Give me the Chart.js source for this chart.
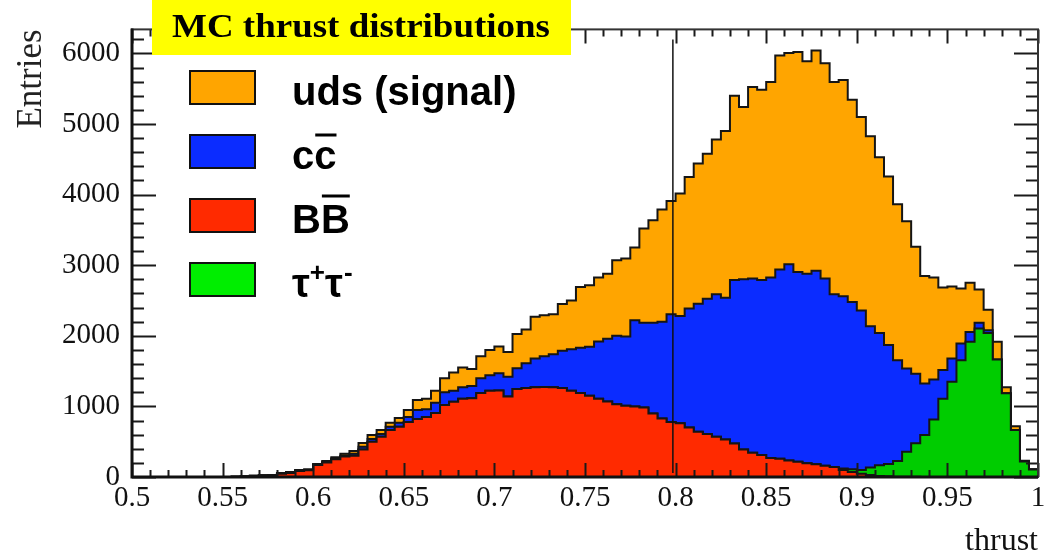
<!DOCTYPE html>
<html>
<head>
<meta charset="utf-8">
<script src="https://cdn.jsdelivr.net/npm/chart.js@4/dist/chart.umd.min.js"></script>
<style>
  body { margin: 0; background: #fff; }
</style>
</head>
<body>
<canvas id="grafica" width="1056" height="557"></canvas>
<script>
// histogram binning: 100 bins from 0.5 to 1.0
const thrustMin = 0.5;
const thrustMax = 1.0;
const binWidth = 0.005;
const cutValue = 0.7985;

const xTicks = [0.5, 0.55, 0.6, 0.65, 0.7, 0.75, 0.8, 0.85, 0.9, 0.95, 1.0];
const xTickLabels = ["0.5", "0.55", "0.6", "0.65", "0.7", "0.75", "0.8", "0.85", "0.9", "0.95", "1"];
const yTicks = [0, 1000, 2000, 3000, 4000, 5000, 6000];

// entries per bin
const bbValues = [
    0, 0, 0, 0, 0, 0, 0, 0, 0, 0,
    0, 5, 8, 15, 20, 25, 45, 55, 85, 95,
    170, 205, 250, 290, 300, 390, 500, 570, 665, 712,
    780, 820, 850, 905, 1020, 1065, 1110, 1115, 1190, 1220,
    1225, 1140, 1245, 1260, 1270, 1275, 1270, 1260, 1220, 1190,
    1150, 1110, 1070, 1030, 1010, 1000, 985, 900, 830, 780,
    760, 700, 640, 610, 570, 530, 475, 390, 345, 310,
    270, 260, 235, 215, 195, 180, 160, 140, 100, 70,
    45, 30, 15, 10, 5, 3, 2, 1, 1, 0,
    0, 0, 0, 0, 0, 0, 0, 0, 0, 0
];
const tauValues = [
    0, 0, 0, 0, 0, 0, 0, 0, 0, 0,
    0, 0, 0, 0, 0, 0, 0, 0, 0, 0,
    0, 0, 0, 0, 0, 0, 0, 0, 0, 0,
    0, 0, 0, 0, 0, 0, 0, 0, 0, 0,
    0, 0, 0, 0, 0, 0, 0, 0, 0, 0,
    0, 0, 0, 0, 0, 0, 0, 0, 0, 0,
    0, 0, 0, 0, 0, 0, 0, 0, 0, 0,
    0, 0, 0, 0, 0, 0, 0, 0, 20, 40,
    55, 105, 150, 175, 220, 355, 475, 595, 815, 1110,
    1350, 1655, 1915, 2105, 2040, 1665, 1185, 665, 220, 105
];
const ccValues = [
    0, 0, 0, 0, 0, 0, 0, 0, 0, 0,
    0, 0, 0, 0, 0, 0, 5, 5, 5, 5,
    7, 10, 15, 15, 30, 40, 40, 40, 47, 58,
    70, 130, 110, 145, 180, 155, 160, 175, 210, 220,
    245, 280, 295, 350, 410, 435, 470, 530, 590, 640,
    695, 810, 890, 970, 980, 1220, 1200, 1285, 1370, 1525,
    1520, 1685, 1815, 1915, 2020, 2010, 2315, 2410, 2465, 2480,
    2555, 2680, 2780, 2690, 2685, 2740, 2650, 2450, 2440, 2370,
    2260, 2000, 1875, 1685, 1430, 1180, 985, 730, 565, 405,
    330, 235, 140, 80, 40, 0, 0, 0, 0, 0
];
const udsValues = [
    0, 0, 0, 0, 0, 0, 0, 0, 0, 0,
    0, 0, 0, 5, 5, 5, 5, 10, 10, 10,
    8, 10, 15, 25, 40, 50, 55, 55, 58, 65,
    100, 140, 150, 170, 200, 260, 280, 240, 310, 360,
    380, 350, 485, 480, 590, 580, 565, 660, 690, 860,
    870, 905, 920, 1070, 1105, 1030, 1335, 1450, 1590, 1605,
    1735, 1865, 1985, 2055, 2190, 2360, 2610, 2440, 2715, 2695,
    2770, 3030, 2990, 3115, 3010, 3120, 3050, 3005, 3065, 2865,
    2740, 2690, 2490, 2385, 2210, 2085, 1800, 1520, 1445, 1170,
    1020, 780, 695, 470, 290, 250, 85, 55, 10, 5
];

// low edge of every bin, plus the last upper edge
const edges = bbValues.map((v, i) => +(thrustMin + i * binWidth).toFixed(3));

function histo(values) {
    const pts = values.map((v, i) => ({ x: edges[i], y: v }));
    pts.push({ x: thrustMax, y: 0 });
    return pts;
}

const capas = [
    { label: "BB", values: bbValues, color: "#ff2a00", legendColor: "#ff2a00", fill: "origin" },
    { label: "tau+tau-", values: tauValues, color: "#00cc00", legendColor: "#00ee00", fill: "-1" },
    { label: "cc", values: ccValues, color: "#0b2cff", legendColor: "#0b2cff", fill: "-1" },
    { label: "uds (signal)", values: udsValues, color: "#ffa500", legendColor: "#ffa500", fill: "-1" },
];

const datasets = capas.map(c => ({
    label: c.label,
    data: histo(c.values),
    backgroundColor: c.color,
    borderColor: "#151515",
    borderWidth: 2,
    fill: c.fill,
    stepped: true,
    pointRadius: 0,
}));

const marco = {
    id: "marco",
    afterDraw(chart) {
        const { ctx, chartArea: a, scales: { x, y } } = chart;
        ctx.save();

        // cut line
        const xc = x.getPixelForValue(cutValue);
        ctx.strokeStyle = "#111";
        ctx.lineWidth = 1.5;
        ctx.beginPath();
        ctx.moveTo(xc, a.top + 10);
        ctx.lineTo(xc, a.bottom - 4);
        ctx.stroke();

        // ticks, ROOT style (inside the frame, on all four sides)
        ctx.strokeStyle = "#1a1a1a";
        ctx.lineWidth = 2;
        ctx.beginPath();
        for (let v = 0; v <= y.max; v += 200) {
            const py = Math.round(y.getPixelForValue(v)) + 0.5;
            const len = v % 1000 === 0 ? 24 : 12;
            ctx.moveTo(a.left, py); ctx.lineTo(a.left + len, py);
            ctx.moveTo(a.right, py); ctx.lineTo(a.right - len, py);
        }
        for (let k = 0; k <= 50; k++) {
            const px = Math.round(x.getPixelForValue(thrustMin + k * 0.01)) + 0.5;
            const len = k % 5 === 0 ? 14 : 7;
            ctx.moveTo(px, a.bottom); ctx.lineTo(px, a.bottom - len);
            ctx.moveTo(px, a.top); ctx.lineTo(px, a.top + len);
        }
        ctx.stroke();

        // frame
        ctx.strokeStyle = "#333";
        ctx.lineWidth = 2;
        ctx.strokeRect(a.left, a.top, a.right - a.left, a.bottom - a.top);
        ctx.strokeStyle = "#111";
        ctx.lineWidth = 3;
        ctx.beginPath();
        ctx.moveTo(a.left, a.top - 1);
        ctx.lineTo(a.left, a.bottom);
        ctx.lineTo(a.right, a.bottom);
        ctx.stroke();

        // yellow title box
        ctx.fillStyle = "#ffff00";
        ctx.fillRect(152, 0, 419, 55);
        ctx.fillStyle = "#000";
        ctx.font = 'bold 33px "Liberation Serif"';
        ctx.textBaseline = "alphabetic";
        ctx.textAlign = "left";
        const titulo = "MC thrust distributions";
        const tw = ctx.measureText(titulo).width;
        ctx.save();
        ctx.translate(172, 37);
        ctx.scale(378 / tw, 1);
        ctx.fillText(titulo, 0, 0);
        ctx.restore();

        // legend
        const orden = [3, 2, 0, 1];
        orden.forEach((idx, row) => {
            const c = capas[idx];
            const top = 71 + row * 64;
            ctx.fillStyle = c.legendColor;
            ctx.fillRect(190, top, 65, 33);
            ctx.strokeStyle = "#111";
            ctx.lineWidth = 2;
            ctx.strokeRect(190, top, 65, 33);

            const base = top + 34;
            const tx = 292;
            ctx.fillStyle = "#000";
            ctx.font = 'bold 40px "Liberation Sans"';
            if (idx === 3) {
                ctx.fillText("uds (signal)", tx, base);
            } else if (idx === 2 || idx === 0) {
                const ch = idx === 2 ? "c" : "B";
                const w = ctx.measureText(ch).width;
                ctx.fillText(ch + ch, tx, base);
                ctx.lineWidth = 3;
                ctx.strokeStyle = "#000";
                ctx.beginPath();
                const oy = idx === 2 ? base - 34 : base - 37;
                ctx.moveTo(tx + w + 1, oy);
                ctx.lineTo(tx + 2 * w, oy);
                ctx.stroke();
            } else {
                let cx = tx;
                const tau = "\u03c4";
                ctx.fillText(tau, cx, base);
                cx += ctx.measureText(tau).width;
                ctx.font = 'bold 26px "Liberation Sans"';
                ctx.fillText("+", cx, base - 16);
                cx += ctx.measureText("+").width;
                ctx.font = 'bold 40px "Liberation Sans"';
                ctx.fillText(tau, cx, base);
                cx += ctx.measureText(tau).width;
                ctx.font = 'bold 26px "Liberation Sans"';
                ctx.fillText("-", cx + 1, base - 16);
            }
        });

        ctx.restore();
    }
};

new Chart(document.querySelector("#grafica"), {
    type: "line",
    data: { datasets },
    options: {
        responsive: false,
        animation: false,
        layout: { padding: { top: 29, right: 18, left: 11, bottom: 0 } },
        plugins: {
            legend: { display: false },
            tooltip: { enabled: false },
        },
        scales: {
            x: {
                type: "linear",
                min: thrustMin,
                max: thrustMax,
                grid: { display: false, drawTicks: false },
                border: { display: false },
                afterBuildTicks: s => { s.ticks = xTicks.map(v => ({ value: v })); },
                afterFit: s => { s.height = 80; },
                ticks: {
                    autoSkip: false,
                    maxRotation: 0,
                    padding: 4,
                    color: "#111",
                    font: { family: "Liberation Serif", size: 29 },
                    callback: (v, i) => xTickLabels[i],
                },
                title: {
                    display: true,
                    text: "thrust",
                    align: "end",
                    color: "#111",
                    padding: { top: 0, bottom: -4 },
                    font: { family: "Liberation Serif", size: 32 },
                },
            },
            y: {
                stacked: true,
                min: 0,
                max: 6340,
                grid: { display: false, drawTicks: false },
                border: { display: false },
                afterBuildTicks: s => { s.ticks = yTicks.map(v => ({ value: v })); },
                afterFit: s => { s.width = 121; },
                ticks: {
                    padding: 12,
                    color: "#111",
                    font: { family: "Liberation Serif", size: 29 },
                    callback: v => String(v),
                },
                title: {
                    display: true,
                    text: "Entries",
                    align: "end",
                    color: "#222",
                    padding: 0,
                    font: { family: "Liberation Serif", size: 35 },
                },
            },
        },
    },
    plugins: [marco],
});
</script>
</body>
</html>
